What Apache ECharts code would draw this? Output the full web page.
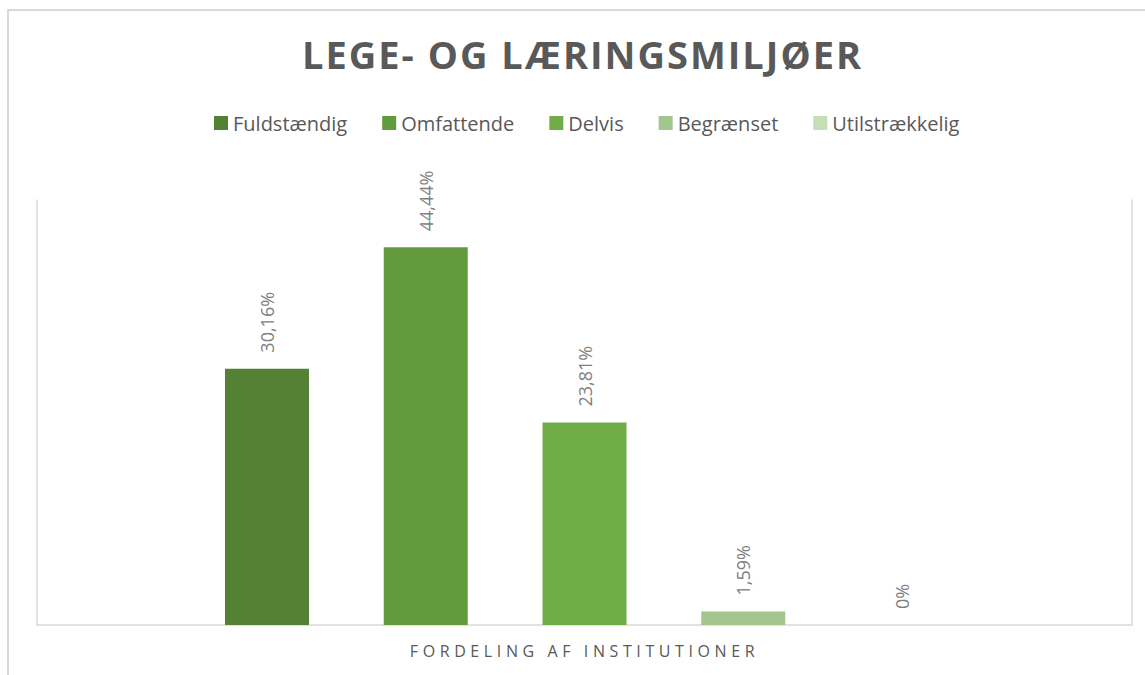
<!DOCTYPE html>
<html>
<head>
<meta charset="utf-8">
<script src="https://cdn.jsdelivr.net/npm/echarts@6/dist/echarts.min.js"></script>
<style>
  html, body { margin: 0; padding: 0; background: #fff; }
  #chart { width: 1145px; height: 675px; }
  /* Excel-style spaced caps for the title and the category label */
  #chart text[style*="38px"] { letter-spacing: 2px; }
  #chart text[style*="16px"] { letter-spacing: 4.6px; }
</style>
</head>
<body>
<div id="chart"></div>
<script>
const categories = ['FORDELING AF INSTITUTIONER']
const seriesNames = ['Fuldstændig', 'Omfattende', 'Delvis', 'Begrænset', 'Utilstrækkelig']
const values = [30.16, 44.44, 23.81, 1.59, 0]

const colors = ['#548235', '#629a3e', '#70ad47', '#a3c68f', '#c5dfb4']
const font = '"Open Sans", sans-serif'

const chart = echarts.init(document.getElementById('chart'), null, { renderer: 'svg' })

chart.setOption({
  animation: false,
  title: {
    text: 'LEGE- OG LÆRINGSMILJØER',
    left: 297,
    top: 30,
    textStyle: {
      fontFamily: font,
      fontSize: 38,
      fontWeight: 'bold',
      color: '#595959'
    }
  },
  legend: {
    top: 108,
    left: 209,
    itemWidth: 14,
    itemHeight: 14,
    itemGap: 35,
    icon: 'rect',
    textStyle: {
      fontFamily: font,
      fontSize: 20,
      color: '#595959'
    },
    data: seriesNames
  },
  graphic: [{
    // outer chart border
    type: 'rect',
    shape: { x: 8, y: 10, width: 1300, height: 800 },
    style: { fill: 'none', stroke: '#d9d9d9', lineWidth: 2 },
    silent: true
  }],
  grid: {
    left: 37,
    right: 13,
    top: 200,
    bottom: 50
  },
  xAxis: {
    type: 'category',
    data: categories,
    axisLine: { lineStyle: { color: '#d9d9d9', width: 1.5 } },
    axisTick: { show: false },
    axisLabel: {
      margin: 18,
      fontFamily: font,
      fontSize: 16,
      color: '#595959'
    }
  },
  yAxis: [{
    type: 'value',
    min: 0,
    max: 50,
    axisLine: { show: true, lineStyle: { color: '#d9d9d9', width: 1.5 } },
    axisTick: { show: false },
    axisLabel: { show: false },
    splitLine: { show: false }
  }, {
    type: 'value',
    position: 'right',
    axisLine: { show: true, lineStyle: { color: '#d9d9d9', width: 1.5 } },
    axisTick: { show: false },
    axisLabel: { show: false },
    splitLine: { show: false }
  }],
  series: seriesNames.map((name, i) => ({
    name: name,
    type: 'bar',
    barWidth: 84,
    barGap: '89%',
    data: [values[i]],
    itemStyle: { color: colors[i] },
    label: {
      show: true,
      position: 'top',
      rotate: 90,
      align: 'left',
      verticalAlign: 'middle',
      distance: 16,
      fontFamily: font,
      fontSize: 18,
      color: '#808080',
      formatter: p => String(p.value).replace('.', ',') + '%'
    }
  }))
})
</script>
</body>
</html>
